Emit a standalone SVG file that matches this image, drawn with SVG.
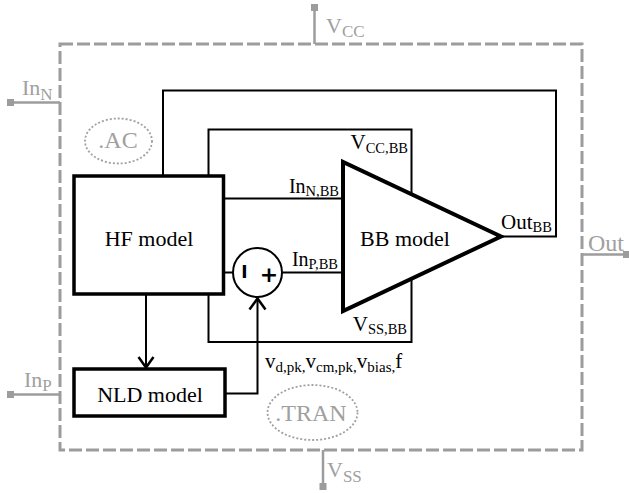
<svg xmlns="http://www.w3.org/2000/svg" width="629" height="493" viewBox="0 0 629 493">
<style>
  .t{font-family:"Liberation Serif","Times New Roman",serif;fill:#000}
  .g{font-family:"Liberation Serif","Times New Roman",serif;fill:#a0a0a0}
  .w{fill:none;stroke:#000;stroke-width:2}
  .gl{fill:none;stroke:#9c9c9c;stroke-width:2.5}
  .sq{fill:#9c9c9c}
  .box{fill:#fff;stroke:#000;stroke-width:3.5}
  .dot{fill:none;stroke:#a0a0a0;stroke-width:1.8;stroke-dasharray:2 2}
  .arr{fill:none;stroke:#000;stroke-width:2.5}
</style>
<rect width="629" height="493" fill="#fff"/>

<g id="boundary">
  <rect x="60" y="44" width="522" height="406" fill="none" stroke="#9c9c9c" stroke-width="3" stroke-dasharray="13 4"/>
</g>

<g id="terminal-vcc">
  <line class="gl" x1="314.5" y1="10" x2="314.5" y2="44"/>
  <rect class="sq" x="311" y="4" width="7" height="7"/>
  <text class="g" x="326" y="33" font-size="22">V<tspan dy="4" font-size="17">CC</tspan></text>
</g>
<g id="terminal-inn">
  <line class="gl" x1="13" y1="102.5" x2="60" y2="102.5"/>
  <rect class="sq" x="7" y="99" width="7" height="7"/>
  <text class="g" x="22" y="95" font-size="22">In<tspan dy="5" font-size="17">N</tspan></text>
</g>
<g id="terminal-inp">
  <line class="gl" x1="13" y1="394.5" x2="60" y2="394.5"/>
  <rect class="sq" x="7" y="391" width="7" height="7"/>
  <text class="g" x="24" y="387" font-size="22">In<tspan dy="4" font-size="17">P</tspan></text>
</g>
<g id="terminal-out">
  <line class="gl" x1="582" y1="254.5" x2="626" y2="254.5"/>
  <rect class="sq" x="623" y="251" width="7" height="7"/>
  <text class="g" x="588" y="251" font-size="24">Out</text>
</g>
<g id="terminal-vss">
  <line class="gl" x1="323" y1="450" x2="323" y2="484"/>
  <rect class="sq" x="319.5" y="483" width="7" height="7"/>
  <text class="g" x="327" y="477" font-size="22">V<tspan dy="5" font-size="17">SS</tspan></text>
</g>

<g id="ac">
  <ellipse class="dot" cx="118.5" cy="141" rx="33.5" ry="22.5"/>
  <text class="g" x="118" y="148" font-size="24" text-anchor="middle">.AC</text>
</g>
<g id="tran">
  <ellipse class="dot" cx="312.5" cy="412.5" rx="45" ry="27.5"/>
  <text class="g" x="311" y="421" font-size="24" text-anchor="middle">.TRAN</text>
</g>

<g id="connectors">
  <path class="w" d="M163,176 V90.5 H556 V236.5 H501"/>
  <path class="w" d="M208.5,176 V129.5 H411.5 V194"/>
  <path class="w" d="M208.5,294 V342 H411.5 V278.5"/>
  <path class="w" d="M223,198.5 H343"/>
  <path class="w" d="M223,272.5 H233"/>
  <path class="w" d="M282.5,272.5 H343"/>
  <path class="w" d="M225,393.5 H257.5 V298"/>
  <polyline class="arr" points="249.5,309.5 257.5,298.5 265.5,309.5"/>
  <path class="w" d="M146,294 V367"/>
  <polyline class="arr" points="138.5,357 146,367.5 153.5,357"/>
  <text class="t" x="339" y="193" font-size="20" text-anchor="end">In<tspan dy="3" font-size="14.5">N,BB</tspan></text>
  <text class="t" x="408" y="149" font-size="21" text-anchor="end">V<tspan dy="4" font-size="14.5">CC,BB</tspan></text>
  <text class="t" x="338" y="266" font-size="20" text-anchor="end">In<tspan dy="3" font-size="14.5">P,BB</tspan></text>
  <text class="t" x="407" y="330.5" font-size="21" text-anchor="end">V<tspan dy="3" font-size="14.5">SS,BB</tspan></text>
  <text class="t" x="501" y="229" font-size="21">Out<tspan dy="3" font-size="14.5">BB</tspan></text>
  <text class="t" x="265" y="368" font-size="21">v<tspan dy="4" font-size="15">d,pk,</tspan><tspan dy="-4">v</tspan><tspan dy="4" font-size="15">cm,pk,</tspan><tspan dy="-4">v</tspan><tspan dy="4" font-size="15">bias,</tspan><tspan dy="-4">f</tspan></text>
</g>

<g id="hf-model">
  <rect class="box" x="74" y="176" width="149.5" height="118"/>
  <text class="t" x="149" y="246" font-size="22" text-anchor="middle">HF model</text>
</g>
<g id="nld-model">
  <rect class="box" x="74" y="369" width="151" height="47"/>
  <text class="t" x="150" y="402" font-size="22" text-anchor="middle">NLD model</text>
</g>
<g id="bb-model">
  <polygon points="343,162 343,311 501,236.5" fill="#fff" stroke="#000" stroke-width="4"/>
  <text class="t" x="405" y="246" font-size="22" text-anchor="middle">BB model</text>
</g>
<g id="sum">
  <circle cx="257.5" cy="272.5" r="24.5" fill="#fff" stroke="#000" stroke-width="2"/>
  <text x="244.5" y="278" font-family="DejaVu Sans" font-weight="bold" font-size="17" text-anchor="middle">I</text>
  <text x="269" y="281.5" font-family="DejaVu Sans" font-weight="bold" font-size="22" text-anchor="middle">+</text>
</g>
</svg>
